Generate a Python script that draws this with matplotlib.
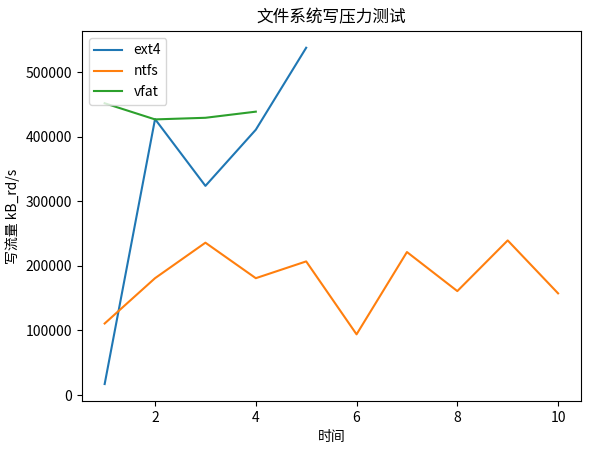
import matplotlib
matplotlib.use("Agg")
import matplotlib.pyplot as plt

plt.rcParams['font.family'] = ['Noto Sans CJK SC', 'DejaVu Sans']
plt.rcParams['axes.unicode_minus'] = False

ext4_x = [1, 2, 3, 4, 5]
ext4_y = [17000, 427500, 324000, 411000, 538000]

ntfs_x = [1, 2, 3, 4, 5, 6, 7, 8, 9, 10]
ntfs_y = [110800, 181000, 236000, 181000, 207000, 94000, 221500, 161000, 239500, 157500]

vfat_x = [1, 2, 3, 4]
vfat_y = [452000, 427000, 429500, 439000]

fig, ax = plt.subplots(figsize=(5.92, 4.55), dpi=100)
fig.subplots_adjust(left=0.1385, right=0.981, bottom=0.119, top=0.932)

ax.plot(ext4_x, ext4_y, label="ext4")
ax.plot(ntfs_x, ntfs_y, label="ntfs")
ax.plot(vfat_x, vfat_y, label="vfat")

ax.set_title("文件系统写压力测试")
ax.set_xlabel("时间")
ax.set_ylabel("写流量 kB_rd/s")
ax.legend(loc="upper left")

fig.savefig("out.png", dpi=100)
